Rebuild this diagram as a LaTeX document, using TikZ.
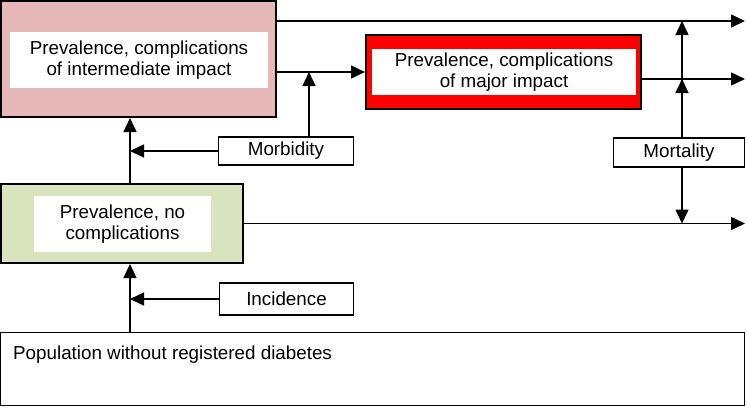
\documentclass[tikz,border=0pt]{standalone}
\usepackage{fontspec}
\setmainfont{Liberation Sans}
\usetikzlibrary{arrows.meta}
\definecolor{pinkfill}{HTML}{E6B9B8}
\definecolor{greenfill}{HTML}{D7E4BD}
\definecolor{redfill}{HTML}{FF0000}
\begin{document}
\begin{tikzpicture}[x=1pt,y=-1pt]
            \tikzset{
              stagebox/.style={draw=black, line width=2pt, inner sep=0pt},
              textpanel/.style={fill=white, inner sep=0pt, align=center, font=\fontsize{18.8}{21}\selectfont},
              labelbox/.style={draw=black, line width=1.2pt, fill=white, inner sep=0pt, font=\fontsize{18.8}{21}\selectfont},
              flow/.style={line width=1.5pt, -{Triangle[length=14pt,width=13pt]}}
            }
            \useasboundingbox (0,0) rectangle (747,408);
            % stages
            \node [stagebox, fill=pinkfill, minimum width=275pt, minimum height=116pt] (inter) at (138.5,59) {};
            \node [textpanel, minimum width=258pt, minimum height=56pt] (intertxt) at (139,60) {Prevalence, complications\\of intermediate impact};
            \node [stagebox, fill=redfill, minimum width=275pt, minimum height=74pt] (major) at (503.5,72) {};
            \node [textpanel, minimum width=264pt, minimum height=46pt] (majortxt) at (504,72) {Prevalence, complications\\of major impact};
            \node [stagebox, fill=greenfill, minimum width=242pt, minimum height=79pt] (nocomp) at (122,223.5) {};
            \node [textpanel, minimum width=177pt, minimum height=56pt] (nocomptxt) at (122.5,224) {Prevalence, no\\complications};
            \node [labelbox, minimum width=744pt, minimum height=73pt] (pop) at (372.5,369) {};
            \node [anchor=west, inner sep=0pt, font=\fontsize{18.8}{21}\selectfont] (poptxt) at (13,355) {Population without registered diabetes};
            % transitions
            \node [labelbox, minimum width=135pt, minimum height=28pt] (morb) at (286,151) {Morbidity};
            \node [labelbox, minimum width=134pt, minimum height=32pt] (inc) at (286.5,299) {Incidence};
            \node [labelbox, minimum width=131pt, minimum height=29pt] (mort) at (679,152.5) {Mortality};
            \coordinate (vx) at (130,0);
            \coordinate (mx) at (682,0);
            \coordinate (endA) at (745,21);
            \coordinate (endB) at (745,79);
            \coordinate (endC) at (745,223.5);
            \coordinate (join) at (309,72);
            \draw [flow] (inter.east |- endA) -- (endA);
            \draw [flow] (inter.east |- major.west) -- (major.west);
            \draw [flow] (major.east |- endB) -- (endB);
            \draw [flow] (nocomp.east) -- (endC);
            \draw [flow] (mort.north -| mx) -- (mx |- endA);
            \draw [flow] (mort.north -| mx) -- (mx |- endB);
            \draw [flow] (mort.south -| mx) -- (mx |- endC);
            \draw [flow] (morb.north -| join) -- (join);
            \draw [flow] (nocomp.north -| vx) -- (inter.south -| vx);
            \draw [flow] (morb.west) -- (morb.west -| vx);
            \draw [flow] (pop.north -| vx) -- (nocomp.south -| vx);
            \draw [flow] (inc.west) -- (inc.west -| vx);
            \end{tikzpicture}
\end{document}
